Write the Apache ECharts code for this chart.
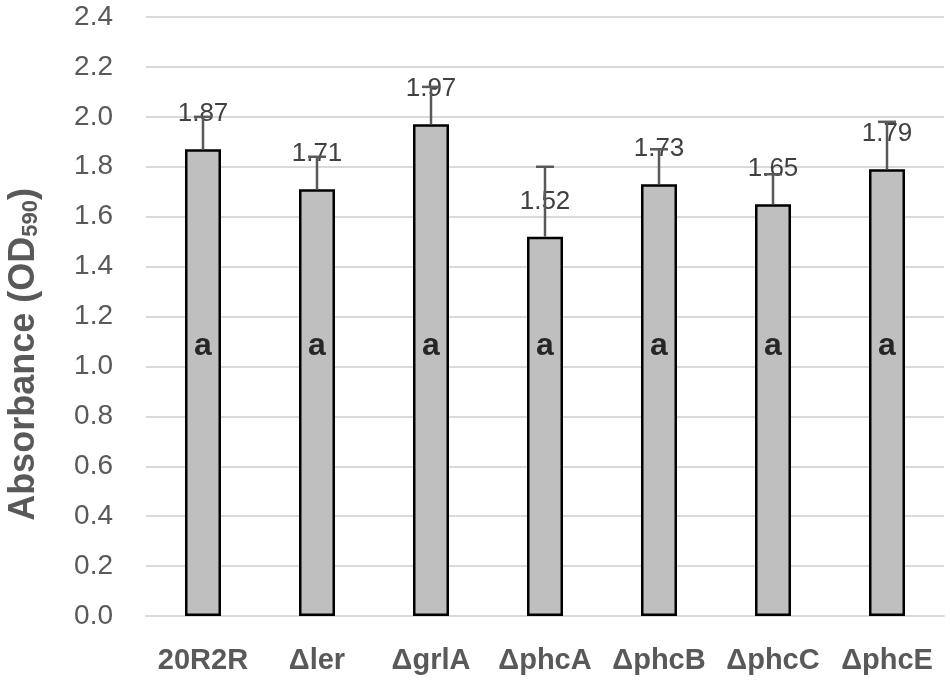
<!DOCTYPE html>
<html>
<head>
<meta charset="utf-8">
<script src="https://cdn.jsdelivr.net/npm/echarts@6/dist/echarts.min.js"></script>
<style>
  html, body { margin: 0; padding: 0; background: #fff; }
  #chart { width: 950px; height: 684px; }
</style>
</head>
<body>
<div id="chart"></div>
<script>
// strains on the x axis
const strains = ['20R2R', 'Δler', 'ΔgrlA', 'ΔphcA', 'ΔphcB', 'ΔphcC', 'ΔphcE'];
// mean absorbance and error (SD)
const means = [1.87, 1.71, 1.97, 1.52, 1.73, 1.65, 1.79];
const errors = [0.13, 0.13, 0.15, 0.28, 0.14, 0.12, 0.19];
// significance letters, all drawn at the same level
const letters = ['a', 'a', 'a', 'a', 'a', 'a', 'a'];
const letterLevel = 1.08;

const chart = echarts.init(document.getElementById('chart'));

const errorData = means.map((m, i) => [i, m, m + errors[i]]);

chart.setOption({
  animation: false,
  grid: { left: 146, right: 6, top: 17, bottom: 68, outerBoundsMode: 'none' },
  xAxis: {
    type: 'category',
    data: strains,
    axisTick: { show: false },
    axisLine: { lineStyle: { color: '#d9d9d9', width: 2 } },
    axisLabel: {
      interval: 0,
      color: '#595959',
      fontFamily: 'Liberation Sans',
      fontWeight: 'bold',
      fontSize: 29,
      margin: 30
    }
  },
  yAxis: {
    type: 'value',
    min: 0,
    max: 2.4,
    interval: 0.2,
    name: '{t|Absorbance (OD}{s|590}{t|)}',
    nameLocation: 'middle',
    nameRotate: 90,
    nameGap: 104,
    nameTextStyle: {
      padding: [0, 76, 0, 0],
      rich: {
        t: { fontFamily: 'Liberation Sans', fontWeight: 'bold', fontSize: 36, color: '#595959' },
        s: { fontFamily: 'Liberation Sans', fontWeight: 'bold', fontSize: 22, color: '#595959', padding: [14, 0, 0, 0] }
      }
    },
    axisLine: { show: false },
    axisTick: { show: false },
    splitLine: { lineStyle: { color: '#d9d9d9', width: 2 } },
    axisLabel: {
      color: '#595959',
      fontFamily: 'Liberation Sans',
      fontSize: 28,
      margin: 33,
      formatter: v => v.toFixed(1)
    }
  },
  series: [
    {
      type: 'bar',
      data: means,
      barWidth: 36,
      itemStyle: { color: '#bfbfbf', borderColor: '#000', borderWidth: 2.5 },
      label: {
        show: true,
        position: 'top',
        distance: 22,
        color: '#404040',
        fontFamily: 'Liberation Sans',
        fontSize: 26,
        formatter: p => p.value.toFixed(2)
      },
      z: 2
    },
    {
      type: 'custom',
      data: errorData,
      renderItem: (params, api) => {
        const base = api.coord([api.value(0), api.value(1)]);
        const top = api.coord([api.value(0), api.value(2)]);
        const half = 9;
        const style = { stroke: '#595959', lineWidth: 2.5 };
        return {
          type: 'group',
          children: [
            { type: 'line', shape: { x1: base[0], y1: base[1], x2: top[0], y2: top[1] }, style },
            { type: 'line', shape: { x1: top[0] - half, y1: top[1], x2: top[0] + half, y2: top[1] }, style }
          ]
        };
      },
      z: 4
    },
    {
      type: 'scatter',
      data: letters.map((l, i) => [i, letterLevel, l]),
      symbolSize: 0,
      label: {
        show: true,
        position: 'inside',
        color: '#000',
        fontFamily: 'Liberation Sans',
        fontWeight: 'bold',
        fontSize: 32,
        formatter: p => p.value[2]
      },
      z: 5
    }
  ]
});
</script>
</body>
</html>
